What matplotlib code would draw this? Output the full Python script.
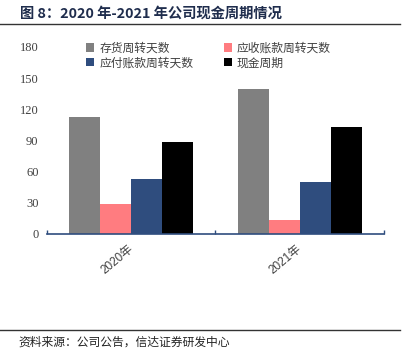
import matplotlib
matplotlib.use("Agg")
import matplotlib.pyplot as plt
from matplotlib.lines import Line2D
import numpy as np

plt.rcParams['font.family'] = ['Noto Sans CJK SC', 'DejaVu Sans']

categories = ['2020年', '2021年']
series_names = ['存货周转天数', '应收账款周转天数', '应付账款周转天数', '现金周期']
inventory_days = [113, 140]
receivable_days = [29, 13.5]
payable_days = [53, 50]
cash_cycle = [88.5, 103]
yticks = [0, 30, 60, 90, 120, 150, 180]
colors = ['#808080', '#FF7C80', '#2F4D7E', '#000000']

values = [inventory_days, receivable_days, payable_days, cash_cycle]

fig = plt.figure(figsize=(4.08, 3.62), dpi=100)
ax = fig.add_axes([0.115, 0.3536, 0.826, 0.5166])

x = np.arange(len(categories))
w = 0.184
bars = []
for i, (vals, c, name) in enumerate(zip(values, colors, series_names)):
    b = ax.bar(x + (i - 1.5) * w, vals, width=w, color=c, label=name, zorder=2)
    bars.append(b)

ax.set_xlim(-0.5, 1.5)
ax.set_ylim(0, 180)
ax.set_yticks(yticks)
ax.set_yticklabels([str(t) for t in yticks], fontfamily='Liberation Serif', fontsize=9, color='#404040')
ax.tick_params(axis='y', length=0, pad=6)
for s in ['top', 'right', 'left']:
    ax.spines[s].set_visible(False)
ax.spines['bottom'].set_color('#2F4D7E')
ax.spines['bottom'].set_linewidth(1.2)

ax.set_xticks([-0.5, 0.5, 1.5])
ax.set_xticklabels([])
ax.tick_params(axis='x', direction='in', length=3, color='#2F4D7E', width=1)
for xi, lab in zip(x, categories):
    ax.text(xi - 0.02, -9, lab, rotation=40, ha='right', va='top', fontsize=8.5,
            color='#404040', family=['Liberation Sans', 'Noto Sans CJK SC'],
            rotation_mode='anchor', transform=ax.transData)

order = [0, 2, 1, 3]
leg = ax.legend([bars[i] for i in order], [series_names[i] for i in order],
                loc='upper left', bbox_to_anchor=(0.085, 1.085), ncol=2, frameon=False,
                fontsize=8.5, handlelength=0.7, handleheight=0.7, handletextpad=0.4,
                columnspacing=2.6, labelspacing=0.15, labelcolor='#404040')

fig.text(0.05, 0.962, '图 8：2020 年-2021 年公司现金周期情况', fontsize=10.3, fontweight='bold',
         color='#1F2D4D', va='center', ha='left')
fig.add_artist(Line2D([0.0, 0.98], [0.934, 0.934], color='#333333', lw=1))
fig.add_artist(Line2D([0.0, 0.98], [0.088, 0.088], color='#333333', lw=1))
fig.text(0.045, 0.055, '资料来源：公司公告，信达证券研发中心', fontsize=8.5, style='italic',
         color='#222222', va='center', ha='left')

fig.savefig('out.png', dpi=100)
